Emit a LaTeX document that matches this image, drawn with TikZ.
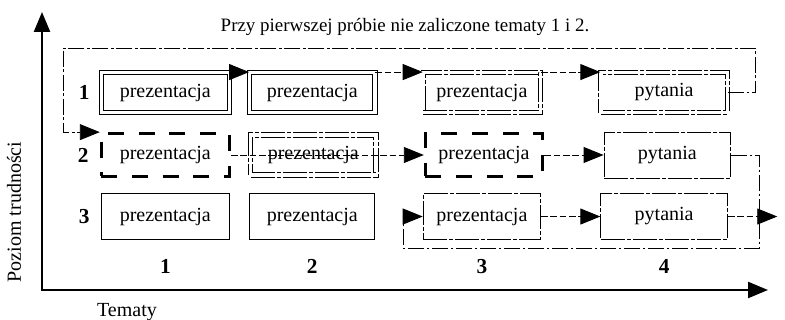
\documentclass[tikz,border=0pt]{standalone}
\usepackage{fontspec}
\setmainfont{Liberation Serif}
\usepackage{tikz}
\usetikzlibrary{arrows.meta, positioning}

\begin{document}
\begin{tikzpicture}[x=1pt,y=1pt]
	\tikzset{
		node distance=15pt and 15pt,
		box/.style={rectangle, draw, black, line width=0.7pt, align=center, font=\fontsize{15}{18}\selectfont,
		minimum height=34.5pt, inner sep=0pt},
		passed/.style={box, double, double distance=2.6pt, minimum height=30pt},
		retake/.style={passed, dash pattern=on 18pt off 1.5pt on 3pt off 1.5pt},
		chosen/.style={box, line width=2.3pt, dash pattern=on 12pt off 11pt, minimum height=32pt},
		open/.style={box, dash pattern=on 18pt off 1.5pt on 3pt off 1.5pt},
		c1/.style={minimum width=96pt},
		c2/.style={minimum width=94pt},
		c3/.style={minimum width=88pt},
		c4/.style={minimum width=95pt},
		level/.style={font=\fontsize{16}{18}\selectfont\bfseries},
		label/.style={font=\fontsize{15}{18}\selectfont},
		tip/.style={-{Triangle[length=15pt,width=12pt]}},
		link/.style={line width=0.7pt, dash pattern=on 5pt off 2pt},
		back/.style={line width=0.7pt, dash pattern=on 12pt off 2pt on 2pt off 2pt},
		axis/.style={line width=1.8pt, {Triangle[length=15pt,width=12pt]}-{Triangle[length=15pt,width=12pt]}}
	}
	\useasboundingbox (0,0) rectangle (588.75,240);

	% poziom 1
	\node[passed, c1] (p11) at (124,170.6) {prezentacja};
	\node[passed, c2, right=14.5pt of p11] (p12) {prezentacja};
	\node[retake, c3, right=35.5pt of p12] (p13) {prezentacja};
	\node[retake, c4, right=44.5pt of p13] (p14) {pytania};

	% poziom 2
	\node[chosen, c1] (p21) at (124,123.75) {prezentacja};
	\node[retake, c2, right=14.5pt of p21] (p22) {prezentacja};
	\node[chosen, c3, right=35.5pt of p22] (p23) {prezentacja};
	\node[open, c4, right=44.5pt of p23] (p24) {pytania};

	% poziom 3
	\node[box, c1] (p31) at (124,77.6) {prezentacja};
	\node[box, c2, right=14.5pt of p31] (p32) {prezentacja};
	\node[open, c3, right=35.5pt of p32] (p33) {prezentacja};
	\node[open, c4, right=44.5pt of p33] (p34) {pytania};

	\node[level, left=5pt of p11] (l1) {1};
	\node[level, left=5pt of p21] (l2) {2};
	\node[level, left=5pt of p31] (l3) {3};

	\node[level, below=11pt of p31] (t1) {1};
	\node[level, below=11pt of p32] (t2) {2};
	\node[level, below=11pt of p33] (t3) {3};
	\node[level, below=11pt of p34] (t4) {4};

	\node[label, font=\fontsize{14.2}{17}\selectfont] (title) at (303.75,219.75) {Przy pierwszej próbie nie zaliczone tematy 1 i 2.};
	\node[label, rotate=90] (ylabel) at (10.5,81) {Poziom trudności};
	\node[label] (xlabel) at (95.25,6) {Tematy};

	\coordinate (origin) at (31.5,22.5);
	\coordinate (ytop) at (31.5,231);
	\coordinate (xend) at (576,22.5);
	\coordinate (exit) at ([xshift=37pt]p34.east);
	\draw[axis] (ytop) -- (origin) -- (xend);

	\draw[tip, line width=0.7pt](p11.north east) -- (p12.north west);
	\draw[link, tip](p12.north east) -- (p13.north west);
	\draw[link, tip](p13.north east) -- (p14.north west);
	\draw[back, tip](p14.east) -- ++(21pt,0) |- (47.25,204) |- (p21.north west);

	\draw[link, tip](p21.east) -- (p23.west);
	\draw[link, tip](p23.east) -- (p24.west);
	\draw[back, tip](p24.east) -- ++(21pt,0) |- (302.25,54) |- (p33.west);

	\draw[link, tip](p33.east) -- (p34.west);
	\draw[link, tip](p34.east) -- (exit);
\end{tikzpicture}
\end{document}
